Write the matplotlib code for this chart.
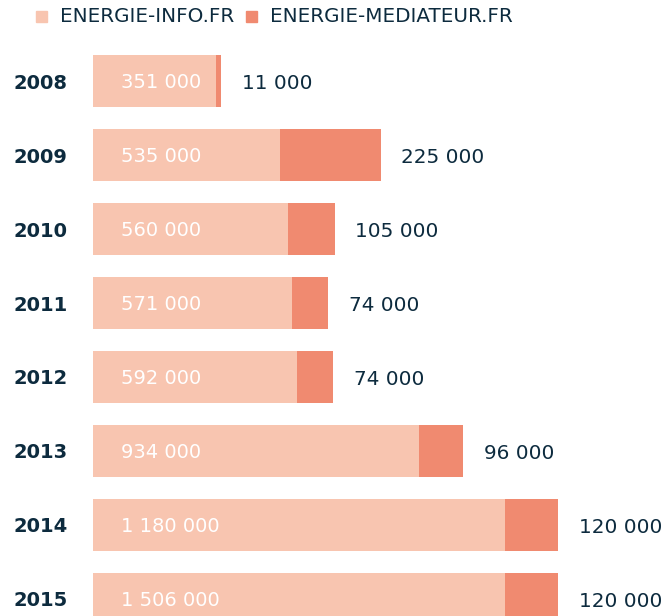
import matplotlib.pyplot as plt
from matplotlib.patches import Rectangle

years = ["2008", "2009", "2010", "2011", "2012", "2013", "2014", "2015"]
info_labels = ["351 000", "535 000", "560 000", "571 000", "592 000", "934 000", "1 180 000", "1 506 000"]
med_labels = ["11 000", "225 000", "105 000", "74 000", "74 000", "96 000", "120 000", "120 000"]
# bar lengths as drawn in the picture (thousands)
info_len = [351, 535, 560, 571, 584, 934, 1180, 1180]
med_len = [17, 289, 132, 103, 103, 126, 152, 152]

light = "#F8C5B0"
dark = "#F08A70"
navy = "#0D2B3E"

plt.rcParams['font.family'] = ['DejaVu Sans']

fig = plt.figure(figsize=(6.64, 6.16), dpi=100)
ax = fig.add_axes([93 / 664, 0, 571 / 664, 1])

pos = list(range(len(years)))
ax.barh(pos, info_len, height=0.70, color=light)
ax.barh(pos, med_len, left=info_len, height=0.70, color=dark)

for i in pos:
    ax.annotate(info_labels[i], (0, i), xytext=(20, -1), textcoords="offset points",
                color="white", fontsize=14, va="center", ha="left")
    ax.annotate(med_labels[i], (info_len[i] + med_len[i], i), xytext=(15, -1.5),
                textcoords="offset points", color=navy, fontsize=14.4, va="center", ha="left")

ax.set_xlim(0, 1636)
ax.set_ylim(7.23, -1.095)
ax.set_yticks(pos)
ax.set_yticklabels(years, fontsize=14, fontweight="bold", color=navy)
ax.tick_params(axis="y", length=0, pad=18.5)
ax.set_xticks([])
for s in ax.spines.values():
    s.set_visible(False)

# legend
fig.patches.append(Rectangle((36 / 664, 1 - 22 / 616), 11 / 664, 11 / 616,
                             transform=fig.transFigure, color=light))
fig.text(60 / 664, 1 - 16.5 / 616, "ENERGIE-INFO.FR", fontsize=14.3, color=navy, va="center")
fig.patches.append(Rectangle((246 / 664, 1 - 22 / 616), 11 / 664, 11 / 616,
                             transform=fig.transFigure, color=dark))
fig.text(270 / 664, 1 - 16.5 / 616, "ENERGIE-MEDIATEUR.FR", fontsize=14.3, color=navy, va="center")

fig.savefig("out.png", dpi=100)
